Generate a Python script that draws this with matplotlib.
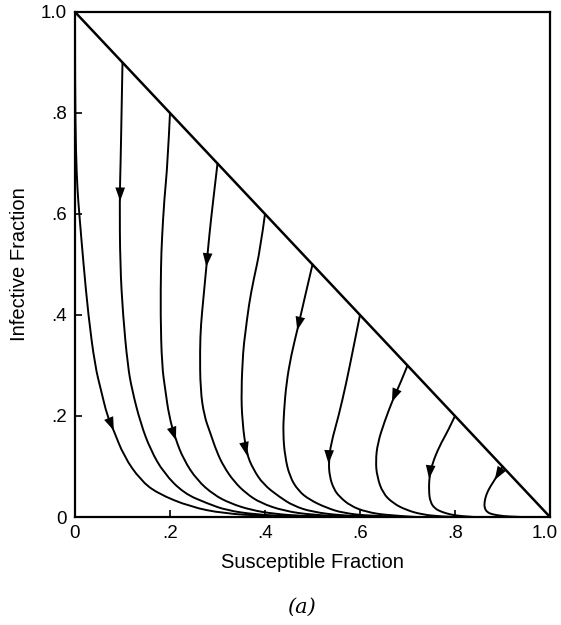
import numpy as np
import matplotlib
matplotlib.use("Agg")
import matplotlib.pyplot as plt
import matplotlib.transforms as mtransforms
from matplotlib.patches import FancyArrowPatch, PathPatch
from matplotlib.path import Path

# ---------------- data ----------------
curve0_s = [0.0, 0.0, 0.002, 0.005, 0.009, 0.018, 0.028, 0.042, 0.055, 0.068, 0.08, 0.103, 0.138, 0.173, 0.243, 0.313, 0.40, 0.50, 0.60]
curve0_i = [1.0, 0.85, 0.72, 0.65, 0.60, 0.50, 0.40, 0.30, 0.25, 0.20, 0.175, 0.12, 0.073, 0.047, 0.020, 0.007, 0.002, 0.0004, 0.0]

curve1_s = [0.10, 0.098, 0.096, 0.094, 0.095, 0.101, 0.111, 0.120, 0.138, 0.159, 0.187, 0.229, 0.278, 0.32, 0.38, 0.45, 0.52, 0.60]
curve1_i = [0.90, 0.80, 0.70, 0.63, 0.50, 0.40, 0.30, 0.252, 0.186, 0.133, 0.087, 0.047, 0.027, 0.013, 0.005, 0.0015, 0.0003, 0.0]

curve2_s = [0.20, 0.195, 0.188, 0.183, 0.181, 0.180, 0.183, 0.190, 0.198, 0.211, 0.229, 0.257, 0.292, 0.327, 0.37, 0.42, 0.48, 0.55, 0.62]
curve2_i = [0.80, 0.70, 0.63, 0.55, 0.50, 0.40, 0.30, 0.252, 0.20, 0.156, 0.113, 0.073, 0.044, 0.027, 0.014, 0.006, 0.002, 0.0004, 0.0]

curve3_s = [0.30, 0.29, 0.283, 0.277, 0.270, 0.265, 0.263, 0.264, 0.272, 0.285, 0.298, 0.313, 0.335, 0.36, 0.39, 0.44, 0.50, 0.58, 0.65]
curve3_i = [0.70, 0.62, 0.56, 0.50, 0.43, 0.38, 0.33, 0.252, 0.20, 0.166, 0.13, 0.10, 0.07, 0.047, 0.028, 0.012, 0.004, 0.0008, 0.0]

curve4_s = [0.40, 0.39, 0.376, 0.366, 0.358, 0.354, 0.350, 0.352, 0.361, 0.375, 0.396, 0.43, 0.46, 0.50, 0.56, 0.63, 0.70]
curve4_i = [0.60, 0.53, 0.47, 0.42, 0.36, 0.33, 0.25, 0.19, 0.126, 0.095, 0.065, 0.04, 0.022, 0.01, 0.003, 0.0005, 0.0]

curve5_s = [0.50, 0.485, 0.469, 0.455, 0.445, 0.44, 0.438, 0.442, 0.452, 0.47, 0.494, 0.53, 0.564, 0.62, 0.70]
curve5_i = [0.50, 0.44, 0.374, 0.32, 0.265, 0.21, 0.166, 0.12, 0.08, 0.052, 0.034, 0.018, 0.008, 0.002, 0.0]

curve6_s = [0.60, 0.585, 0.571, 0.555, 0.539, 0.534, 0.536, 0.545, 0.557, 0.58, 0.613, 0.66, 0.72]
curve6_i = [0.40, 0.33, 0.265, 0.20, 0.146, 0.11, 0.08, 0.055, 0.04, 0.022, 0.01, 0.003, 0.0]

curve7_s = [0.70, 0.685, 0.669, 0.652, 0.637, 0.633, 0.636, 0.648, 0.67, 0.697, 0.73, 0.77, 0.80]
curve7_i = [0.30, 0.265, 0.232, 0.19, 0.146, 0.11, 0.08, 0.047, 0.027, 0.014, 0.005, 0.001, 0.0]

curve8_s = [0.80, 0.785, 0.767, 0.752, 0.746, 0.745, 0.748, 0.757, 0.772, 0.79, 0.809, 0.84]
curve8_i = [0.20, 0.17, 0.14, 0.105, 0.08, 0.05, 0.03, 0.017, 0.010, 0.005, 0.002, 0.0]

curve9_s = [0.90, 0.886, 0.874, 0.866, 0.862, 0.862, 0.868, 0.880, 0.893, 0.91, 0.94]
curve9_i = [0.10, 0.077, 0.06, 0.045, 0.03, 0.018, 0.009, 0.005, 0.003, 0.001, 0.0]

# arrow locations (s, i)
arrow_s = [0.08, 0.095, 0.211, 0.277, 0.361, 0.469, 0.534, 0.669, 0.746, 0.886]
arrow_i = [0.175, 0.63, 0.156, 0.50, 0.126, 0.374, 0.11, 0.232, 0.08, 0.077]

# boundary line s + i = 1
diag_s = [0.0, 1.0]
diag_i = [1.0, 0.0]

tick_vals = [0, 0.2, 0.4, 0.6, 0.8, 1.0]
tick_labels = ["0", ".2", ".4", ".6", ".8", "1.0"]
xlabel = "Susceptible Fraction"
ylabel = "Infective Fraction"
caption = "(a)"

curves = [(curve0_s, curve0_i), (curve1_s, curve1_i), (curve2_s, curve2_i),
          (curve3_s, curve3_i), (curve4_s, curve4_i), (curve5_s, curve5_i),
          (curve6_s, curve6_i), (curve7_s, curve7_i), (curve8_s, curve8_i),
          (curve9_s, curve9_i)]

plt.rcParams["font.family"] = ["Liberation Sans", "DejaVu Sans"]

# ---------------- figure ----------------
fig = plt.figure(figsize=(5.61, 6.25), dpi=100)
ax = fig.add_axes([75 / 561, 108 / 625, 475 / 561, 505 / 625])
ax.set_xlim(0, 1)
ax.set_ylim(0, 1)


def smooth_path(xs, ys):
    """Quadratic B-spline style path drawn by matplotlib through the read points."""
    P = np.column_stack([xs, ys])
    verts = [P[0]]
    codes = [Path.MOVETO]
    n = len(P)
    for k in range(1, n - 1):
        end = P[k + 1] if k == n - 2 else (P[k] + P[k + 1]) / 2
        verts += [P[k], end]
        codes += [Path.CURVE3, Path.CURVE3]
    if n == 2:
        verts.append(P[1])
        codes.append(Path.LINETO)
    return Path(verts, codes)


for s, i in curves:
    ax.add_patch(PathPatch(smooth_path(s, i), facecolor="none", edgecolor="black",
                           lw=1.4, capstyle="round", joinstyle="round"))

ax.plot(diag_s, diag_i, color="black", lw=1.8)

# arrowheads, oriented along the curve
for k, (xs, ys) in enumerate(zip(arrow_s, arrow_i)):
    cs, ci = np.asarray(curves[k][0]), np.asarray(curves[k][1])
    d = np.hypot(cs - xs, ci - ys)
    j = int(np.argmin(d))
    j0, j1 = max(j - 1, 0), min(j + 1, len(cs) - 1)
    dx, dy = cs[j1] - cs[j0], ci[j1] - ci[j0]
    n = np.hypot(dx, dy)
    dx, dy = dx / n, dy / n
    L = 0.02
    arr = FancyArrowPatch((xs - dx * L, ys - dy * L), (xs + dx * L * 0.5, ys + dy * L * 0.5),
                          arrowstyle="-|>,head_length=0.7,head_width=0.25",
                          mutation_scale=14, color="black", lw=0, zorder=5)
    ax.add_patch(arr)

for sp in ax.spines.values():
    sp.set_linewidth(1.6)

ax.set_xticks(tick_vals)
ax.set_xticklabels(tick_labels)
ax.set_yticks(tick_vals)
ax.set_yticklabels(tick_labels)
ax.tick_params(direction="in", length=5, width=1.2, labelsize=13.5, pad=6)

# nudge the last x label left so it stays inside the picture
shift = mtransforms.ScaledTranslation(-5 / 100, 0, fig.dpi_scale_trans)
xtl = ax.get_xticklabels()
xtl[-1].set_transform(xtl[-1].get_transform() + shift)

ax.set_xlabel(xlabel, fontsize=14.5, labelpad=8)
ax.set_ylabel(ylabel, fontsize=14.5, labelpad=8)

fig.text(301 / 561, 1 - 607 / 625, caption, fontsize=15, style="italic",
         family=["DejaVu Serif"], ha="center", va="center")

fig.savefig("out.png", dpi=100)
